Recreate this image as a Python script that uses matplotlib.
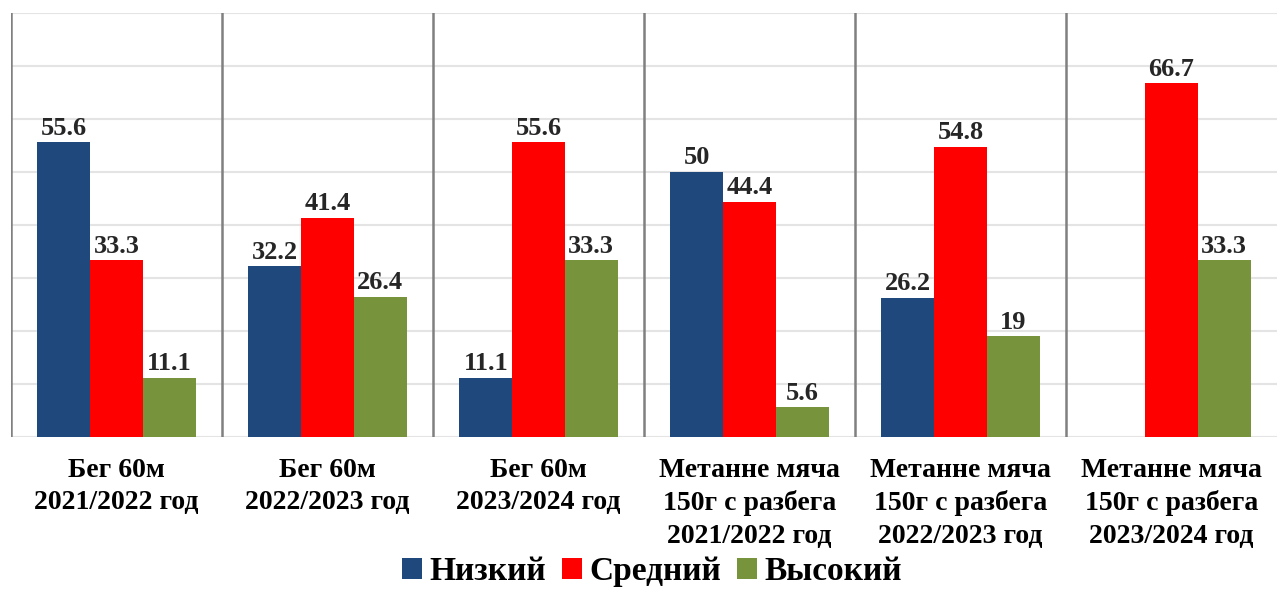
import numpy as np
import matplotlib.pyplot as plt

plt.rcParams['font.family'] = ['Liberation Serif', 'DejaVu Serif']
plt.rcParams['font.weight'] = 'bold'

groups = ["Бег 60м\n2021/2022 год",
          "Бег 60м\n2022/2023 год",
          "Бег 60м\n2023/2024 год",
          "Метанне мяча\n150г с разбега\n2021/2022 год",
          "Метанне мяча\n150г с разбега\n2022/2023 год",
          "Метанне мяча\n150г с разбега\n2023/2024 год"]
nizkiy = [55.6, 32.2, 11.1, 50, 26.2, 0]
sredniy = [33.3, 41.4, 55.6, 44.4, 54.8, 66.7]
vysokiy = [11.1, 26.4, 33.3, 5.6, 19, 33.3]
series = ["Низкий", "Средний", "Высокий"]
colors = ["#1F497D", "#FF0000", "#77933C"]

fig = plt.figure(figsize=(12.86, 5.92), dpi=100)
ax = fig.add_axes([0.0086, 0.262, 0.9844, 0.716])

x = np.arange(len(groups))
w = 0.25
for i, (vals, name, col) in enumerate(zip([nizkiy, sredniy, vysokiy], series, colors)):
    bars = ax.bar(x + (i - 1) * w, vals, w, color=col, label=name, zorder=3)
    for b, v in zip(bars, vals):
        if v == 0:
            continue
        ax.text(b.get_x() + b.get_width() / 2, v + 0.5, "%g" % v,
                ha="center", va="bottom", fontsize=19, fontweight="bold", color="#262626")

# gridlines and group separators
for yv in range(0, 90, 10):
    ax.axhline(yv, color="#e4e4e4", lw=1.5, zorder=1)
for xv in np.arange(-0.5, len(groups) - 0.5, 1):
    ax.axvline(xv, color="#808080", lw=1.8, zorder=2)

ax.set_xlim(-0.5, len(groups) - 0.5)
ax.set_ylim(0, 80)
ax.set_yticks([])
ax.set_xticks(x)
ax.set_xticklabels(groups, fontsize=20, fontweight="bold", linespacing=1.38)
ax.tick_params(axis="x", length=0, pad=15)
for s in ax.spines.values():
    s.set_visible(False)

fig.legend(loc="lower center", bbox_to_anchor=(0.507, -0.042), ncol=3, frameon=False,
           prop={"size": 24, "weight": "bold"}, handlelength=0.6, handleheight=0.6,
           handletextpad=0.2, columnspacing=0.5)

fig.savefig("out.png", dpi=100)
